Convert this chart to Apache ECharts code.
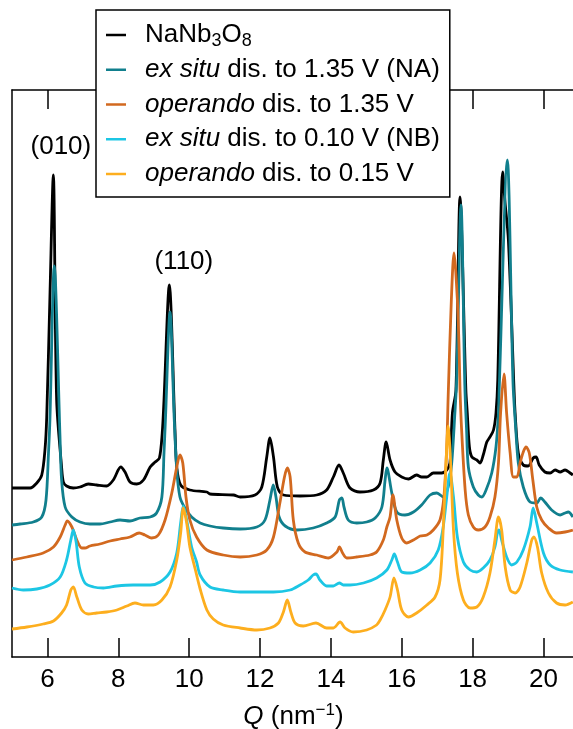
<!DOCTYPE html>
<html>
<head>
<meta charset="utf-8">
<script src="https://cdn.jsdelivr.net/npm/echarts@6/dist/echarts.min.js"></script>
<style>
  html, body { margin: 0; padding: 0; background: #fff; }
  #chart { width: 573px; height: 729px; }
</style>
</head>
<body>
<div id="chart"></div>
<script>
// Diffraction patterns, intensity in arbitrary units (curves offset vertically)
const qTicks = [6, 8, 10, 12, 14, 16, 18, 20];

const nanb3o8 = [
  [5.00,169],[5.51,169],[5.70,174],[5.84,182],[5.93,207],[5.98,240],[6.07,360],[6.166,482],[6.26,257],[6.40,190],
  [6.45,175],[6.54,171],[6.73,169],[6.92,170],[7.15,173],[7.39,172],[7.67,171],[7.86,177],[8.07,190],[8.19,185],
  [8.33,175],[8.52,173],[8.71,177],[8.90,190],[9.04,195],[9.16,199],[9.24,224],[9.29,257],[9.44,372],[9.60,227],
  [9.65,190],[9.76,172],[10.02,167],[10.50,165],[10.59,163],[11.25,162],[11.44,160],[11.86,162],[12.05,170],[12.19,200],
  [12.28,219],[12.38,200],[12.49,170],[12.66,162],[13.13,161],[13.60,162],[13.88,167],[14.07,180],[14.23,192],[14.35,184],
  [14.54,169],[14.82,165],[15.20,167],[15.39,174],[15.48,197],[15.56,215],[15.67,197],[15.81,185],[16.00,180],[16.19,178],
  [16.42,182],[16.56,180],[16.71,180],[16.89,184],[17.13,184],[17.27,187],[17.36,194],[17.43,244],[17.53,267],[17.645,460],
  [17.81,267],[17.85,244],[17.91,210],[17.98,200],[18.12,197],[18.21,194],[18.30,202],[18.40,215],[18.49,220],[18.59,227],
  [18.66,244],[18.71,277],[18.85,485],[18.91,457],[19.01,417],[19.17,267],[19.20,244],[19.29,204],[19.43,192],[19.57,191],
  [19.71,199],[19.79,200],[19.88,192],[20.04,185],[20.19,184],[20.33,187],[20.47,185],[20.61,187],[20.75,184],[20.83,182]
];

const exSitu135 = [
  [5.00,132],[5.23,133],[5.60,135],[5.84,140],[5.96,157],[6.03,204],[6.07,237],[6.194,391],[6.355,220],[6.40,177],
  [6.50,150],[6.69,140],[6.92,135],[7.20,133],[7.48,133],[7.77,135],[8.05,137],[8.33,136],[8.61,139],[8.90,140],
  [9.08,144],[9.23,160],[9.29,204],[9.33,237],[9.46,345],[9.58,237],[9.65,187],[9.74,160],[9.88,149],[10.07,140],
  [10.31,134],[10.59,131],[10.96,129],[11.44,128],[11.91,130],[12.14,137],[12.28,157],[12.375,172],[12.45,160],[12.54,140],
  [12.71,131],[13.04,127],[13.50,129],[13.88,134],[14.12,140],[14.24,157],[14.31,159],[14.37,150],[14.49,137],[14.73,134],
  [15.01,135],[15.25,139],[15.44,150],[15.53,177],[15.58,189],[15.72,164],[15.86,145],[16.09,142],[16.33,145],[16.56,152],
  [16.80,162],[16.99,164],[17.17,160],[17.31,170],[17.41,194],[17.50,244],[17.55,277],[17.673,452],[17.78,272],[17.83,227],
  [17.88,190],[18.02,170],[18.16,162],[18.26,160],[18.38,167],[18.54,184],[18.66,210],[18.73,244],[18.75,267],[18.98,497],
  [19.14,275],[19.22,227],[19.29,194],[19.43,170],[19.62,155],[19.81,154],[19.92,159],[20.04,155],[20.23,147],[20.47,142],
  [20.61,144],[20.70,145],[20.83,140]
];

const operando135 = [
  [5.00,97],[5.42,100],[5.88,104],[6.17,110],[6.36,120],[6.50,132],[6.56,136],[6.69,130],[6.83,117],[6.97,109],
  [7.06,109],[7.20,111],[7.48,113],[7.77,116],[8.05,118],[8.33,120],[8.59,124],[8.75,122],[8.94,119],[9.13,122],
  [9.32,137],[9.51,164],[9.65,190],[9.74,202],[9.82,194],[9.91,160],[10.02,137],[10.21,120],[10.50,107],[10.96,102],
  [11.44,100],[11.91,102],[12.19,107],[12.38,120],[12.56,154],[12.69,180],[12.77,189],[12.85,180],[12.94,137],[13.08,114],
  [13.27,105],[13.60,102],[13.93,99],[14.17,105],[14.24,110],[14.33,104],[14.45,99],[14.73,100],[15.10,102],[15.29,105],
  [15.48,117],[15.58,130],[15.67,140],[15.75,162],[15.86,137],[16.00,119],[16.14,114],[16.33,117],[16.52,121],[16.71,122],
  [16.89,127],[17.08,137],[17.19,160],[17.27,210],[17.31,260],[17.40,357],[17.475,404],[17.57,357],[17.62,307],[17.645,267],
  [17.69,227],[17.79,167],[17.88,142],[18.02,130],[18.16,127],[18.35,130],[18.49,140],[18.63,160],[18.73,194],[18.79,244],
  [18.886,283],[18.96,244],[19.06,204],[19.15,180],[19.25,180],[19.34,194],[19.43,205],[19.51,210],[19.60,204],[19.70,177],
  [19.81,150],[19.95,137],[20.14,129],[20.37,124],[20.61,125],[20.83,127]
];

const exSitu010 = [
  [5.00,69],[5.32,67],[5.70,68],[6.07,72],[6.36,80],[6.54,97],[6.66,117],[6.73,127],[6.81,115],[6.90,90],
  [7.06,74],[7.30,70],[7.58,69],[7.96,71],[8.42,72],[8.90,72],[9.18,75],[9.46,85],[9.65,104],[9.76,134],
  [9.835,151],[9.93,137],[10.07,110],[10.21,95],[10.31,82],[10.59,70],[10.96,67],[11.44,65],[11.91,65],[12.38,65],
  [12.85,67],[13.13,72],[13.36,77],[13.50,82],[13.58,83],[13.69,77],[13.88,71],[14.07,71],[14.24,74],[14.35,72],
  [14.54,72],[14.92,74],[15.29,79],[15.58,87],[15.72,97],[15.79,103],[15.88,95],[16.00,85],[16.23,84],[16.52,87],
  [16.80,94],[17.03,107],[17.17,130],[17.27,160],[17.36,184],[17.46,160],[17.57,120],[17.74,95],[17.93,87],[18.12,85],
  [18.30,89],[18.49,97],[18.63,110],[18.70,124],[18.745,127],[18.82,117],[18.96,100],[19.10,92],[19.25,95],[19.43,107],
  [19.62,130],[19.71,149],[19.81,134],[20.00,104],[20.19,92],[20.47,87],[20.83,85]
];

const operando015 = [
  [5.00,28],[5.42,30],[5.88,33],[6.17,36],[6.40,44],[6.54,52],[6.66,67],[6.73,70],[6.83,60],[6.97,47],
  [7.15,43],[7.39,44],[7.67,45],[7.96,47],[8.24,51],[8.47,54],[8.71,52],[8.99,52],[9.23,57],[9.46,70],
  [9.65,97],[9.76,124],[9.835,149],[9.93,134],[10.02,110],[10.17,88],[10.31,68],[10.50,47],[10.68,38],[10.96,32],
  [11.44,29],[11.91,27],[12.28,29],[12.52,34],[12.66,45],[12.77,57],[12.87,45],[12.99,34],[13.22,31],[13.58,34],
  [13.88,29],[14.07,29],[14.26,35],[14.40,29],[14.63,25],[15.01,27],[15.29,32],[15.39,37],[15.53,47],[15.67,60],
  [15.78,79],[15.88,67],[16.00,47],[16.19,40],[16.42,44],[16.71,52],[16.94,60],[17.08,77],[17.17,127],[17.25,194],
  [17.31,231],[17.38,194],[17.46,127],[17.57,84],[17.74,57],[17.93,49],[18.12,50],[18.30,60],[18.49,84],[18.63,117],
  [18.73,140],[18.82,127],[18.92,90],[19.06,67],[19.20,64],[19.34,70],[19.53,94],[19.67,117],[19.73,120],[19.83,110],
  [19.95,84],[20.14,64],[20.37,54],[20.61,52],[20.83,55]
];

const seriesNames = [
  'NaNb3O8',
  'ex situ dis. to 1.35 V (NA)',
  'operando dis. to 1.35 V',
  'ex situ dis. to 0.10 V (NB)',
  'operando dis. to 0.15 V'
];
const seriesData = [nanb3o8, exSitu135, operando135, exSitu010, operando015];
const seriesColors = ['#000000', '#117f8d', '#d2691f', '#1cc6e4', '#fdae1e'];

// Reflection labels: [text, Q, intensity]
const reflections = [['(010)', 6.38, 510], ['(110)', 9.85, 395]];

const FONT = '"Liberation Sans", Arial, Helvetica, sans-serif';
const FS = 26;

const legendText = {
  'NaNb3O8': '{f|NaNb}{s|3}{n|O}{s|8}',
  'ex situ dis. to 1.35 V (NA)': '{fi|ex situ}{n| dis. to 1.35 V (NA)}',
  'operando dis. to 1.35 V': '{fi|operando}{n| dis. to 1.35 V}',
  'ex situ dis. to 0.10 V (NB)': '{fi|ex situ}{n| dis. to 0.10 V (NB)}',
  'operando dis. to 0.15 V': '{fi|operando}{n| dis. to 0.15 V}'
};

const chart = echarts.init(document.getElementById('chart'), null, { renderer: 'canvas' });

const base = { fontFamily: FONT, fontSize: FS, color: '#000', lineHeight: 30 };

const option = {
  animation: false,
  backgroundColor: '#fff',
  grid: { left: 12, top: 90, bottom: 72, right: -2, containLabel: false, outerBoundsMode: 'none' },
  xAxis: [
    {
      type: 'value', position: 'bottom', min: 5, max: 20.89,
      axisLine: { show: true, lineStyle: { color: '#000', width: 1.5 } },
      axisTick: { show: true, inside: true, length: 19, lineStyle: { color: '#000', width: 1.5 }, customValues: qTicks },
      axisLabel: { show: true, margin: 10, fontFamily: FONT, fontSize: FS, color: '#000', customValues: qTicks },
      splitLine: { show: false },
      name: '{q|Q}{n| (nm}{sup|\u22121}{n|)}',
      nameLocation: 'middle', nameGap: 45,
      nameTextStyle: {
        rich: {
          q: Object.assign({}, base, { fontStyle: 'italic' }),
          n: Object.assign({}, base),
          sup: { fontFamily: FONT, fontSize: 17, color: '#000', lineHeight: 2, verticalAlign: 'top' }
        }
      }
    },
    {
      type: 'value', position: 'top', min: 5, max: 20.89,
      axisLine: { show: true, lineStyle: { color: '#000', width: 1.5 } },
      axisTick: { show: true, inside: true, length: 19, lineStyle: { color: '#000', width: 1.5 }, customValues: qTicks },
      axisLabel: { show: false },
      splitLine: { show: false }
    }
  ],
  yAxis: {
    type: 'value', min: 0, max: 567,
    axisLine: { show: true, lineStyle: { color: '#000', width: 1.5 } },
    axisTick: { show: false },
    axisLabel: { show: false },
    splitLine: { show: false }
  },
  legend: {
    orient: 'vertical', left: 96, top: 10,
    padding: [10, 10, 8, 10], itemGap: 4.75,
    icon: 'rect', itemWidth: 20, itemHeight: 2.5,
    backgroundColor: '#fff', borderColor: '#000', borderWidth: 1.5, borderRadius: 0,
    selectedMode: false,
    data: seriesNames,
    formatter: name => legendText[name],
    textStyle: {
      fontFamily: FONT, fontSize: FS, color: '#000', lineHeight: 30,
      rich: {
        f: Object.assign({}, base, { padding: [0, 0, 0, 14] }),
        fi: Object.assign({}, base, { fontStyle: 'italic', padding: [0, 0, 0, 14] }),
        n: Object.assign({}, base),
        s: { fontFamily: FONT, fontSize: 18, color: '#000', lineHeight: 10, verticalAlign: 'bottom' }
      }
    }
  },
  series: seriesData.map((d, i) => ({
    name: seriesNames[i],
    type: 'line',
    data: d,
    showSymbol: false,
    symbol: 'none',
    smooth: 0.3,
    color: seriesColors[i],
    lineStyle: { color: seriesColors[i], width: 2.8 },
    clip: true,
    markPoint: i === 0 ? {
      symbol: 'circle', symbolSize: 0,
      label: { show: true, position: 'inside', formatter: p => p.name, fontFamily: FONT, fontSize: FS, color: '#000' },
      data: reflections.map(r => ({ name: r[0], coord: [r[1], r[2]] }))
    } : undefined
  }))
};

chart.setOption(option);
</script>
</body>
</html>
